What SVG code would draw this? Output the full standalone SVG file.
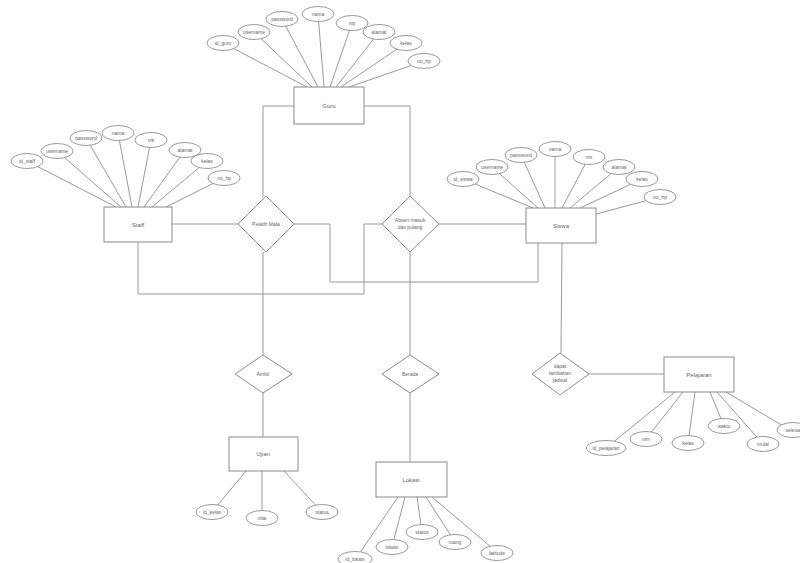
<svg xmlns="http://www.w3.org/2000/svg" width="800" height="563" viewBox="0 0 800 563">
<style>
.e{fill:#fff;stroke:#9a9a9a;stroke-width:1}
.b{fill:#fff;stroke:#8a8a8a;stroke-width:1}
.c{fill:none;stroke:#9a9a9a;stroke-width:1}
.t{font-family:"Liberation Sans",Arial,sans-serif;font-size:5px;fill:#666;text-anchor:middle}
.tl{font-family:"Liberation Sans",Arial,sans-serif;font-size:6px;fill:#666;text-anchor:middle}
</style>
<rect width="800" height="563" fill="#fff"/>
<g id="connectors">
<!-- Guru attrs -->
<line class="c" x1="223" y1="43" x2="307" y2="87"/>
<line class="c" x1="254" y1="32" x2="312" y2="87"/>
<line class="c" x1="282" y1="19" x2="318" y2="87"/>
<line class="c" x1="318" y1="14" x2="324" y2="87"/>
<line class="c" x1="352" y1="23" x2="330" y2="87"/>
<line class="c" x1="379" y1="32" x2="336" y2="87"/>
<line class="c" x1="406" y1="43" x2="341" y2="87"/>
<line class="c" x1="424" y1="61" x2="349" y2="87"/>
<!-- Staff attrs -->
<line class="c" x1="27" y1="161" x2="116" y2="207"/>
<line class="c" x1="57" y1="151" x2="121" y2="207"/>
<line class="c" x1="86" y1="138" x2="126" y2="207"/>
<line class="c" x1="118" y1="133" x2="132" y2="207"/>
<line class="c" x1="151" y1="140" x2="138" y2="207"/>
<line class="c" x1="185" y1="150" x2="144" y2="207"/>
<line class="c" x1="207" y1="161" x2="152" y2="207"/>
<line class="c" x1="224" y1="178" x2="166" y2="207"/>
<!-- Siswa attrs -->
<line class="c" x1="463" y1="179" x2="533" y2="208"/>
<line class="c" x1="492" y1="167" x2="538" y2="208"/>
<line class="c" x1="521" y1="155" x2="545" y2="208"/>
<line class="c" x1="555" y1="149" x2="555" y2="208"/>
<line class="c" x1="589" y1="157" x2="562" y2="208"/>
<line class="c" x1="619" y1="167" x2="570" y2="208"/>
<line class="c" x1="642" y1="179" x2="580" y2="208"/>
<line class="c" x1="660" y1="197" x2="596" y2="214"/>
<!-- Pelajaran attrs -->
<line class="c" x1="606" y1="448" x2="675" y2="392"/>
<line class="c" x1="646" y1="439" x2="683" y2="392"/>
<line class="c" x1="688" y1="443" x2="695" y2="392"/>
<line class="c" x1="724" y1="426" x2="710" y2="392"/>
<line class="c" x1="763" y1="444" x2="717" y2="392"/>
<line class="c" x1="790" y1="430" x2="726" y2="392"/>
<!-- Ujian attrs -->
<line class="c" x1="212" y1="512" x2="246" y2="471"/>
<line class="c" x1="262" y1="517" x2="262" y2="471"/>
<line class="c" x1="322" y1="512" x2="284" y2="471"/>
<!-- Lokasi attrs -->
<line class="c" x1="355" y1="560" x2="398" y2="497"/>
<line class="c" x1="392" y1="547" x2="405" y2="497"/>
<line class="c" x1="422" y1="532" x2="417" y2="497"/>
<line class="c" x1="455" y1="542" x2="426" y2="497"/>
<line class="c" x1="498" y1="553" x2="432" y2="497"/>
<!-- relationships -->
<polyline class="c" points="294,106 263,106 263,197"/>
<polyline class="c" points="364,106 410,106 410,196"/>
<line class="c" x1="172" y1="224" x2="238" y2="224"/>
<polyline class="c" points="294,224 330,224 330,282 538,282 538,243"/>
<polyline class="c" points="138,242 138,294 364,294 364,224 382,224"/>
<line class="c" x1="439" y1="224" x2="526" y2="224"/>
<line class="c" x1="263" y1="252" x2="263" y2="355"/>
<line class="c" x1="263" y1="393" x2="263" y2="437"/>
<line class="c" x1="410" y1="252" x2="410" y2="355"/>
<line class="c" x1="410" y1="393" x2="410" y2="462"/>
<line class="c" x1="562" y1="243" x2="561" y2="353"/>
<line class="c" x1="589" y1="374" x2="664" y2="374"/>
</g>
<g id="Guru"><rect class="b" x="294" y="87" width="70" height="37"/><text class="tl" x="329" y="108">Guru</text></g>
<g id="Guru-attrs">
<ellipse class="e" cx="223" cy="43" rx="16" ry="7.5"/><text class="t" x="223" y="45">id_guru</text>
<ellipse class="e" cx="254" cy="32" rx="16" ry="7.5"/><text class="t" x="254" y="34">username</text>
<ellipse class="e" cx="282" cy="19" rx="16" ry="7.5"/><text class="t" x="282" y="21">password</text>
<ellipse class="e" cx="318" cy="14" rx="16" ry="7.5"/><text class="t" x="318" y="16">nama</text>
<ellipse class="e" cx="352" cy="23" rx="16" ry="7.5"/><text class="t" x="352" y="25">nip</text>
<ellipse class="e" cx="379" cy="32" rx="16" ry="7.5"/><text class="t" x="379" y="34">alamat</text>
<ellipse class="e" cx="406" cy="43" rx="16" ry="7.5"/><text class="t" x="406" y="45">kelas</text>
<ellipse class="e" cx="424" cy="61" rx="16" ry="7.5"/><text class="t" x="424" y="63">no_hp</text>
</g>
<g id="Staff"><rect class="b" x="104" y="207" width="68" height="35"/><text class="tl" x="138" y="227">Staff</text></g>
<g id="Staff-attrs">
<ellipse class="e" cx="27" cy="161" rx="16" ry="7.5"/><text class="t" x="27" y="163">id_staff</text>
<ellipse class="e" cx="57" cy="151" rx="16" ry="7.5"/><text class="t" x="57" y="153">username</text>
<ellipse class="e" cx="86" cy="138" rx="16" ry="7.5"/><text class="t" x="86" y="140">password</text>
<ellipse class="e" cx="118" cy="133" rx="16" ry="7.5"/><text class="t" x="118" y="135">nama</text>
<ellipse class="e" cx="151" cy="140" rx="16" ry="7.5"/><text class="t" x="151" y="142">nik</text>
<ellipse class="e" cx="185" cy="150" rx="16" ry="7.5"/><text class="t" x="185" y="152">alamat</text>
<ellipse class="e" cx="207" cy="161" rx="16" ry="7.5"/><text class="t" x="207" y="163">kelas</text>
<ellipse class="e" cx="224" cy="178" rx="16" ry="7.5"/><text class="t" x="224" y="180">no_hp</text>
</g>
<g id="Siswa"><rect class="b" x="526" y="208" width="70" height="35"/><text class="tl" x="561" y="228">Siswa</text></g>
<g id="Siswa-attrs">
<ellipse class="e" cx="463" cy="179" rx="16" ry="7.5"/><text class="t" x="463" y="181">id_siswa</text>
<ellipse class="e" cx="492" cy="167" rx="16" ry="7.5"/><text class="t" x="492" y="169">username</text>
<ellipse class="e" cx="521" cy="155" rx="16" ry="7.5"/><text class="t" x="521" y="157">password</text>
<ellipse class="e" cx="555" cy="149" rx="16" ry="7.5"/><text class="t" x="555" y="151">nama</text>
<ellipse class="e" cx="589" cy="157" rx="16" ry="7.5"/><text class="t" x="589" y="159">nis</text>
<ellipse class="e" cx="619" cy="167" rx="16" ry="7.5"/><text class="t" x="619" y="169">alamat</text>
<ellipse class="e" cx="642" cy="179" rx="16" ry="7.5"/><text class="t" x="642" y="181">kelas</text>
<ellipse class="e" cx="660" cy="197" rx="16" ry="7.5"/><text class="t" x="660" y="199">no_hp</text>
</g>
<g id="rel-pelatih"><polygon class="b" points="266,196 294,224 266,252 238,224"/><text class="t" x="266" y="226">Pelatih Mata</text></g>
<g id="rel-absen"><polygon class="b" points="410,196 439,224 410,252 382,224"/><text class="t" x="410" y="222">Absen masuk</text><text class="t" x="410" y="229">dan pulang</text></g>
<g id="rel-ambil"><polygon class="b" points="263,355 292,374 263,393 235,374"/><text class="t" x="263" y="376">Ambil</text></g>
<g id="rel-berada"><polygon class="b" points="410,355 439,374 410,393 382,374"/><text class="t" x="410" y="376">Berada</text></g>
<g id="rel-jadwal"><polygon class="b" points="560,353 589,374 560,395 532,374"/><text class="t" x="560" y="368">dapat</text><text class="t" x="560" y="375">tambahan</text><text class="t" x="560" y="382">jadwal</text></g>
<g id="Ujian"><rect class="b" x="229" y="437" width="69" height="34"/><text class="tl" x="263" y="456">Ujian</text></g>
<g id="Ujian-attrs">
<ellipse class="e" cx="212" cy="512" rx="16" ry="7.5"/><text class="t" x="212" y="514">id_kelas</text>
<ellipse class="e" cx="262" cy="518" rx="16" ry="7.5"/><text class="t" x="262" y="520">nilai</text>
<ellipse class="e" cx="322" cy="512" rx="16" ry="7.5"/><text class="t" x="322" y="514">status</text>
</g>
<g id="Lokasi"><rect class="b" x="376" y="462" width="71" height="35"/><text class="tl" x="411" y="482">Lokasi</text></g>
<g id="Lokasi-attrs">
<ellipse class="e" cx="355" cy="559" rx="17" ry="7.5"/><text class="t" x="355" y="561">id_lokasi</text>
<ellipse class="e" cx="392" cy="547" rx="16" ry="7.5"/><text class="t" x="392" y="549">lokasi</text>
<ellipse class="e" cx="422" cy="532" rx="16" ry="7.5"/><text class="t" x="422" y="534">status</text>
<ellipse class="e" cx="455" cy="542" rx="16" ry="7.5"/><text class="t" x="455" y="544">ruang</text>
<ellipse class="e" cx="497" cy="553" rx="16" ry="7.5"/><text class="t" x="497" y="555">latitude</text>
</g>
<g id="Pelajaran"><rect class="b" x="664" y="357" width="70" height="35"/><text class="tl" x="699" y="377">Pelajaran</text></g>
<g id="Pelajaran-attrs">
<ellipse class="e" cx="606" cy="448" rx="20" ry="7.5"/><text class="t" x="606" y="450">id_pelajaran</text>
<ellipse class="e" cx="646" cy="439" rx="16" ry="7.5"/><text class="t" x="646" y="441">nim</text>
<ellipse class="e" cx="688" cy="443" rx="16" ry="7.5"/><text class="t" x="688" y="445">kelas</text>
<ellipse class="e" cx="724" cy="426" rx="16" ry="7.5"/><text class="t" x="724" y="428">waktu</text>
<ellipse class="e" cx="763" cy="444" rx="16" ry="7.5"/><text class="t" x="763" y="446">mulai</text>
<ellipse class="e" cx="793" cy="430" rx="16" ry="7.5"/><text class="t" x="793" y="432">selesai</text>
</g>
</svg>
